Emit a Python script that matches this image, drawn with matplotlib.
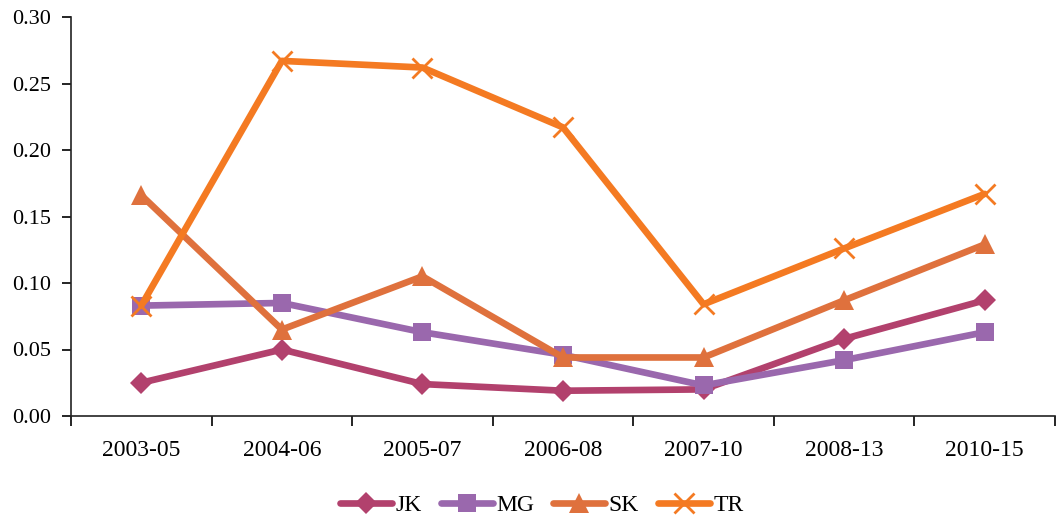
import matplotlib
matplotlib.use("Agg")
import matplotlib.pyplot as plt
import numpy as np

plt.rcParams['font.family'] = ['Liberation Serif', 'DejaVu Serif']

periods = ["2003-05", "2004-06", "2005-07", "2006-08", "2007-10", "2008-13", "2010-15"]
jk = [0.025, 0.050, 0.024, 0.019, 0.020, 0.058, 0.087]
mg = [0.083, 0.085, 0.063, 0.046, 0.023, 0.042, 0.063]
sk = [0.166, 0.065, 0.105, 0.044, 0.044, 0.087, 0.129]
tr = [0.083, 0.267, 0.262, 0.217, 0.084, 0.126, 0.167]

series = [
    ("JK", jk, "#B2416D", "D", 11),
    ("MG", mg, "#9A68AD", "s", 13),
    ("SK", sk, "#DF713D", "^", 14),
    ("TR", tr, "#F47A22", "x", 14),
]

fig = plt.figure(figsize=(10.56, 5.21), dpi=100)
ax = fig.add_axes([71/1056, (521-416)/521, (1055-71)/1056, (416-17)/521])

x = np.arange(len(periods))
for name, vals, col, mk, ms in series:
    ax.plot(x, vals, color=col, lw=4.8, marker=mk, markersize=ms,
            markeredgewidth=2 if mk == "x" else 0, markeredgecolor=col,
            label=name, solid_capstyle="round")

ax.set_xlim(-0.5, -0.5 + 984/141.9)
ax.set_ylim(0, 0.30)
ax.set_yticks(np.arange(0, 0.31, 0.05))
ax.set_yticklabels([f"{v:.2f}" for v in np.arange(0, 0.31, 0.05)])
ax.set_xticks(x)
ax.set_xticklabels(periods)
ax.set_xticks(np.arange(-0.5, 7, 1), minor=True)
ax.tick_params(axis="x", which="major", length=0, pad=17, labelsize=17)
ax.tick_params(axis="x", which="minor", length=7, width=1.2, direction="out")
ax.tick_params(axis="y", length=6.5, width=1.2, labelsize=16, pad=8)
for s in ["top", "right"]:
    ax.spines[s].set_visible(False)
for s in ["left", "bottom"]:
    ax.spines[s].set_linewidth(1.2)
    ax.spines[s].set_color("#222222")

fig.legend(loc="center", bbox_to_anchor=(542/1056, 1 - 505/521), ncol=4,
           frameon=False, fontsize=17, handlelength=2.2, handletextpad=0.15,
           columnspacing=0.8)

fig.savefig("out.png", dpi=100)
